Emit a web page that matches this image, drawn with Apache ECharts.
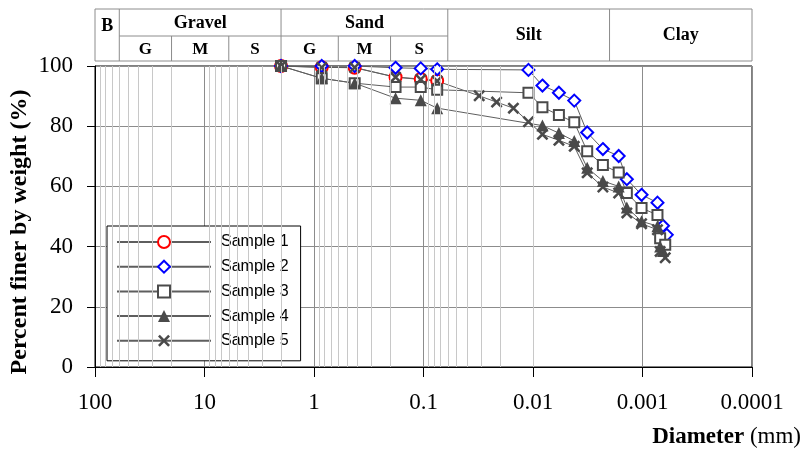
<!DOCTYPE html>
<html><head><meta charset="utf-8">
<script src="https://cdn.jsdelivr.net/npm/echarts@6/dist/echarts.min.js"></script>
<style>html,body{margin:0;padding:0;background:#fff}#c{width:803px;height:451px}</style>
</head><body><div id="c"></div>
<script>
// ---- data ----
const sampleNames = ['Sample 1', 'Sample 2', 'Sample 3', 'Sample 4', 'Sample 5'];
const xTickLabels = ['100', '10', '1', '0.1', '0.01', '0.001', '0.0001'];
const yTickValues = [0, 20, 40, 60, 80, 100];

const s1Diam = [2, 0.85, 0.425, 0.18, 0.106, 0.075];
const s1Pct  = [100, 99.6, 99.4, 96.3, 95.7, 95.1];

const s2Diam = [2, 0.85, 0.425, 0.18, 0.106, 0.075, 0.011, 0.0082, 0.0058, 0.0042, 0.0032, 0.0023, 0.00165, 0.00139, 0.00102, 0.00073, 0.00065, 0.0006];
const s2Pct  = [100, 100, 100, 99.4, 99.2, 98.9, 98.7, 93.5, 91.1, 88.5, 77.9, 72.4, 70.1, 62.4, 57.2, 54.6, 46.9, 43.9];

const s3Diam = [2, 0.85, 0.425, 0.18, 0.106, 0.075, 0.011, 0.0082, 0.0058, 0.0042, 0.0032, 0.0023, 0.00165, 0.00139, 0.00102, 0.00073, 0.00069, 0.00062];
const s3Pct  = [100, 95.9, 94.3, 93.0, 93.0, 92.1, 91.1, 86.3, 83.7, 81.3, 71.7, 67.1, 64.6, 57.8, 52.8, 50.5, 42.8, 40.6];

const s4Diam = [2, 0.85, 0.425, 0.18, 0.106, 0.075, 0.0082, 0.0058, 0.0042, 0.0032, 0.0023, 0.00165, 0.00139, 0.00102, 0.00073, 0.00069, 0.00065];
const s4Pct  = [100, 95.9, 94.3, 89.3, 88.6, 86.0, 80.2, 77.7, 75.1, 66.2, 61.8, 60.0, 53.0, 48.4, 46.8, 40.0, 38.5];

const s5Diam = [2, 0.85, 0.425, 0.18, 0.106, 0.075, 0.031, 0.0215, 0.0151, 0.011, 0.0082, 0.0058, 0.0042, 0.0032, 0.0023, 0.00165, 0.00139, 0.00102, 0.00073, 0.00069, 0.00062];
const s5Pct  = [100, 99.5, 99.5, 96.3, 95.5, 95.0, 90.1, 88.0, 86.0, 81.5, 77.3, 75.3, 73.3, 64.5, 59.8, 57.8, 51.2, 47.6, 45.6, 38.4, 36.3];

// classification header (size limits in mm)
const classBounds = [100, 60, 20, 6, 2, 0.6, 0.2, 0.06, 0.002, 0.0001];

// ---- helpers ----
const pairs = (d, v) => d.map((x, i) => [x, v[i]]);
const minorGrid = [];
for (let k = -4; k <= 1; k++) {
  for (let m = 2; m <= 9; m++) minorGrid.push(+(m * Math.pow(10, k)).toPrecision(3));
}
const SERIF = '"Liberation Serif", "Times New Roman", serif';
const SANS = '"Liberation Sans", Arial, sans-serif';
const DARK = '#4a4a4a';
const LINE = '#5e5e5e';
const xSymbol = 'path://M0,1.5L1.5,0L5,3.5L8.5,0L10,1.5L6.5,5L10,8.5L8.5,10L5,6.5L1.5,10L0,8.5L3.5,5Z';

function lineSeries(name, data, symbol, size, itemStyle) {
  return {
    name, type: 'line', data, symbol, symbolSize: size,
    lineStyle: { color: LINE, width: 1 },
    itemStyle, emphasis: { disabled: true }, z: 3
  };
}

const chart = echarts.init(document.getElementById('c'), null, { renderer: 'canvas' });
const option = {
  animation: false,
  backgroundColor: '#fff',
  grid: { left: 95, right: 51, top: 66, bottom: 84, show: true, borderColor: '#000', borderWidth: 1, backgroundColor: 'transparent' },
  xAxis: {
    type: 'log', logBase: 10, min: 0.0001, max: 100, inverse: true,
    axisLine: { lineStyle: { color: '#000', width: 1 } },
    axisTick: { show: true, inside: false, length: 10, lineStyle: { color: '#000' } },
    axisLabel: {
      margin: 24, fontFamily: SERIF, fontSize: 23, color: '#000',
      formatter: v => {
        const i = Math.round(2 - Math.log10(v));
        return xTickLabels[i] !== undefined ? xTickLabels[i] : '';
      }
    },
    splitLine: { show: true, lineStyle: { color: '#8c8c8c', width: 1 } },
    minorTick: { show: false }, minorSplitLine: { show: false }
  },
  yAxis: {
    type: 'value', min: 0, max: 100, interval: 20,
    axisLine: { show: true, lineStyle: { color: '#000', width: 1 } },
    axisTick: { show: true, inside: false, length: 8, lineStyle: { color: '#000' } },
    axisLabel: { margin: 22, fontFamily: SERIF, fontSize: 23, color: '#000' },
    splitLine: { show: true, lineStyle: { color: '#8c8c8c', width: 1 } }
  },
  legend: {
    orient: 'vertical', left: 107, top: 226, data: sampleNames,
    itemWidth: 94, itemHeight: 15, itemGap: 8.7,
    padding: [8, 12, 12, 9],
    backgroundColor: '#fff', borderColor: '#000', borderWidth: 1,
    selectedMode: false,
    textStyle: { fontFamily: SANS, fontSize: 16, color: '#000', lineHeight: 15, padding: [0, 0, 0, 5] }
  },
  series: [
    {
      name: 'grid-minor', type: 'line', data: [], z: 1, silent: true,
      markLine: {
        silent: true, symbol: 'none', animation: false,
        label: { show: false },
        lineStyle: { color: '#c8c8c8', width: 1, type: 'solid' },
        emphasis: { disabled: true },
        data: minorGrid.map(v => ({ xAxis: v }))
      }
    },
    lineSeries('Sample 1', pairs(s1Diam, s1Pct), 'emptyCircle', 12, { color: '#ff0000', borderWidth: 1.5 }),
    lineSeries('Sample 2', pairs(s2Diam, s2Pct), 'emptyDiamond', 12, { color: '#0000ff', borderWidth: 2 }),
    lineSeries('Sample 3', pairs(s3Diam, s3Pct), 'emptyRect', 10, { color: DARK, borderWidth: 1.5 }),
    lineSeries('Sample 4', pairs(s4Diam, s4Pct), 'triangle', 12, { color: DARK }),
    lineSeries('Sample 5', pairs(s5Diam, s5Pct), xSymbol, 12, { color: DARK })
  ]
};
chart.setOption(option);

// ---- header table & titles ----
const px = v => chart.convertToPixel({ xAxisIndex: 0 }, v);
const T0 = 9, T1 = 36, T2 = 61;
const tableStroke = { stroke: '#8c8c8c', lineWidth: 1 };
const g = [];
const xL = px(classBounds[0]), xR = px(classBounds[classBounds.length - 1]);
g.push({ type: 'rect', shape: { x: xL, y: T0, width: xR - xL, height: T2 - T0 }, style: Object.assign({ fill: '#fff' }, tableStroke) });
[60, 2, 0.06, 0.002].forEach(b => {
  const x = px(b);
  g.push({ type: 'line', shape: { x1: x, y1: T0, x2: x, y2: T2 }, style: tableStroke });
});
g.push({ type: 'line', shape: { x1: px(60), y1: T1, x2: px(0.06), y2: T1 }, style: tableStroke });
[20, 6, 0.6, 0.2].forEach(b => {
  const x = px(b);
  g.push({ type: 'line', shape: { x1: x, y1: T1, x2: x, y2: T2 }, style: tableStroke });
});
function hText(text, a, b, y, size) {
  g.push({
    type: 'text', x: (px(a) + px(b)) / 2, y,
    style: { text, font: 'bold ' + size + 'px ' + SERIF, fill: '#000', textAlign: 'center', textVerticalAlign: 'middle' }
  });
}
hText('B', 100, 60, 26, 18);
hText('Gravel', 60, 2, 23, 18);
hText('Sand', 2, 0.06, 23, 18);
hText('Silt', 0.06, 0.002, 35, 18);
hText('Clay', 0.002, 0.0001, 35, 18);
hText('G', 60, 20, 50, 17);
hText('M', 20, 6, 50, 17);
hText('S', 6, 2, 50, 17);
hText('G', 2, 0.6, 50, 17);
hText('M', 0.6, 0.2, 50, 17);
hText('S', 0.2, 0.06, 50, 17);

g.push({
  type: 'text', x: 20, y: 232, rotation: Math.PI / 2,
  style: { text: 'Percent finer by weight (%)', font: 'bold 24px ' + SERIF, fill: '#000', textAlign: 'center', textVerticalAlign: 'middle' }
});
g.push({
  type: 'text', x: 801, y: 437,
  style: {
    text: '{b|Diameter} {n|(mm)}', textAlign: 'right', textVerticalAlign: 'middle',
    rich: {
      b: { fontFamily: SERIF, fontWeight: 'bold', fontSize: 23, fill: '#000' },
      n: { fontFamily: SERIF, fontSize: 23, fill: '#000' }
    },
    font: '23px ' + SERIF
  }
});
chart.setOption({ graphic: g });
</script>
</body></html>
